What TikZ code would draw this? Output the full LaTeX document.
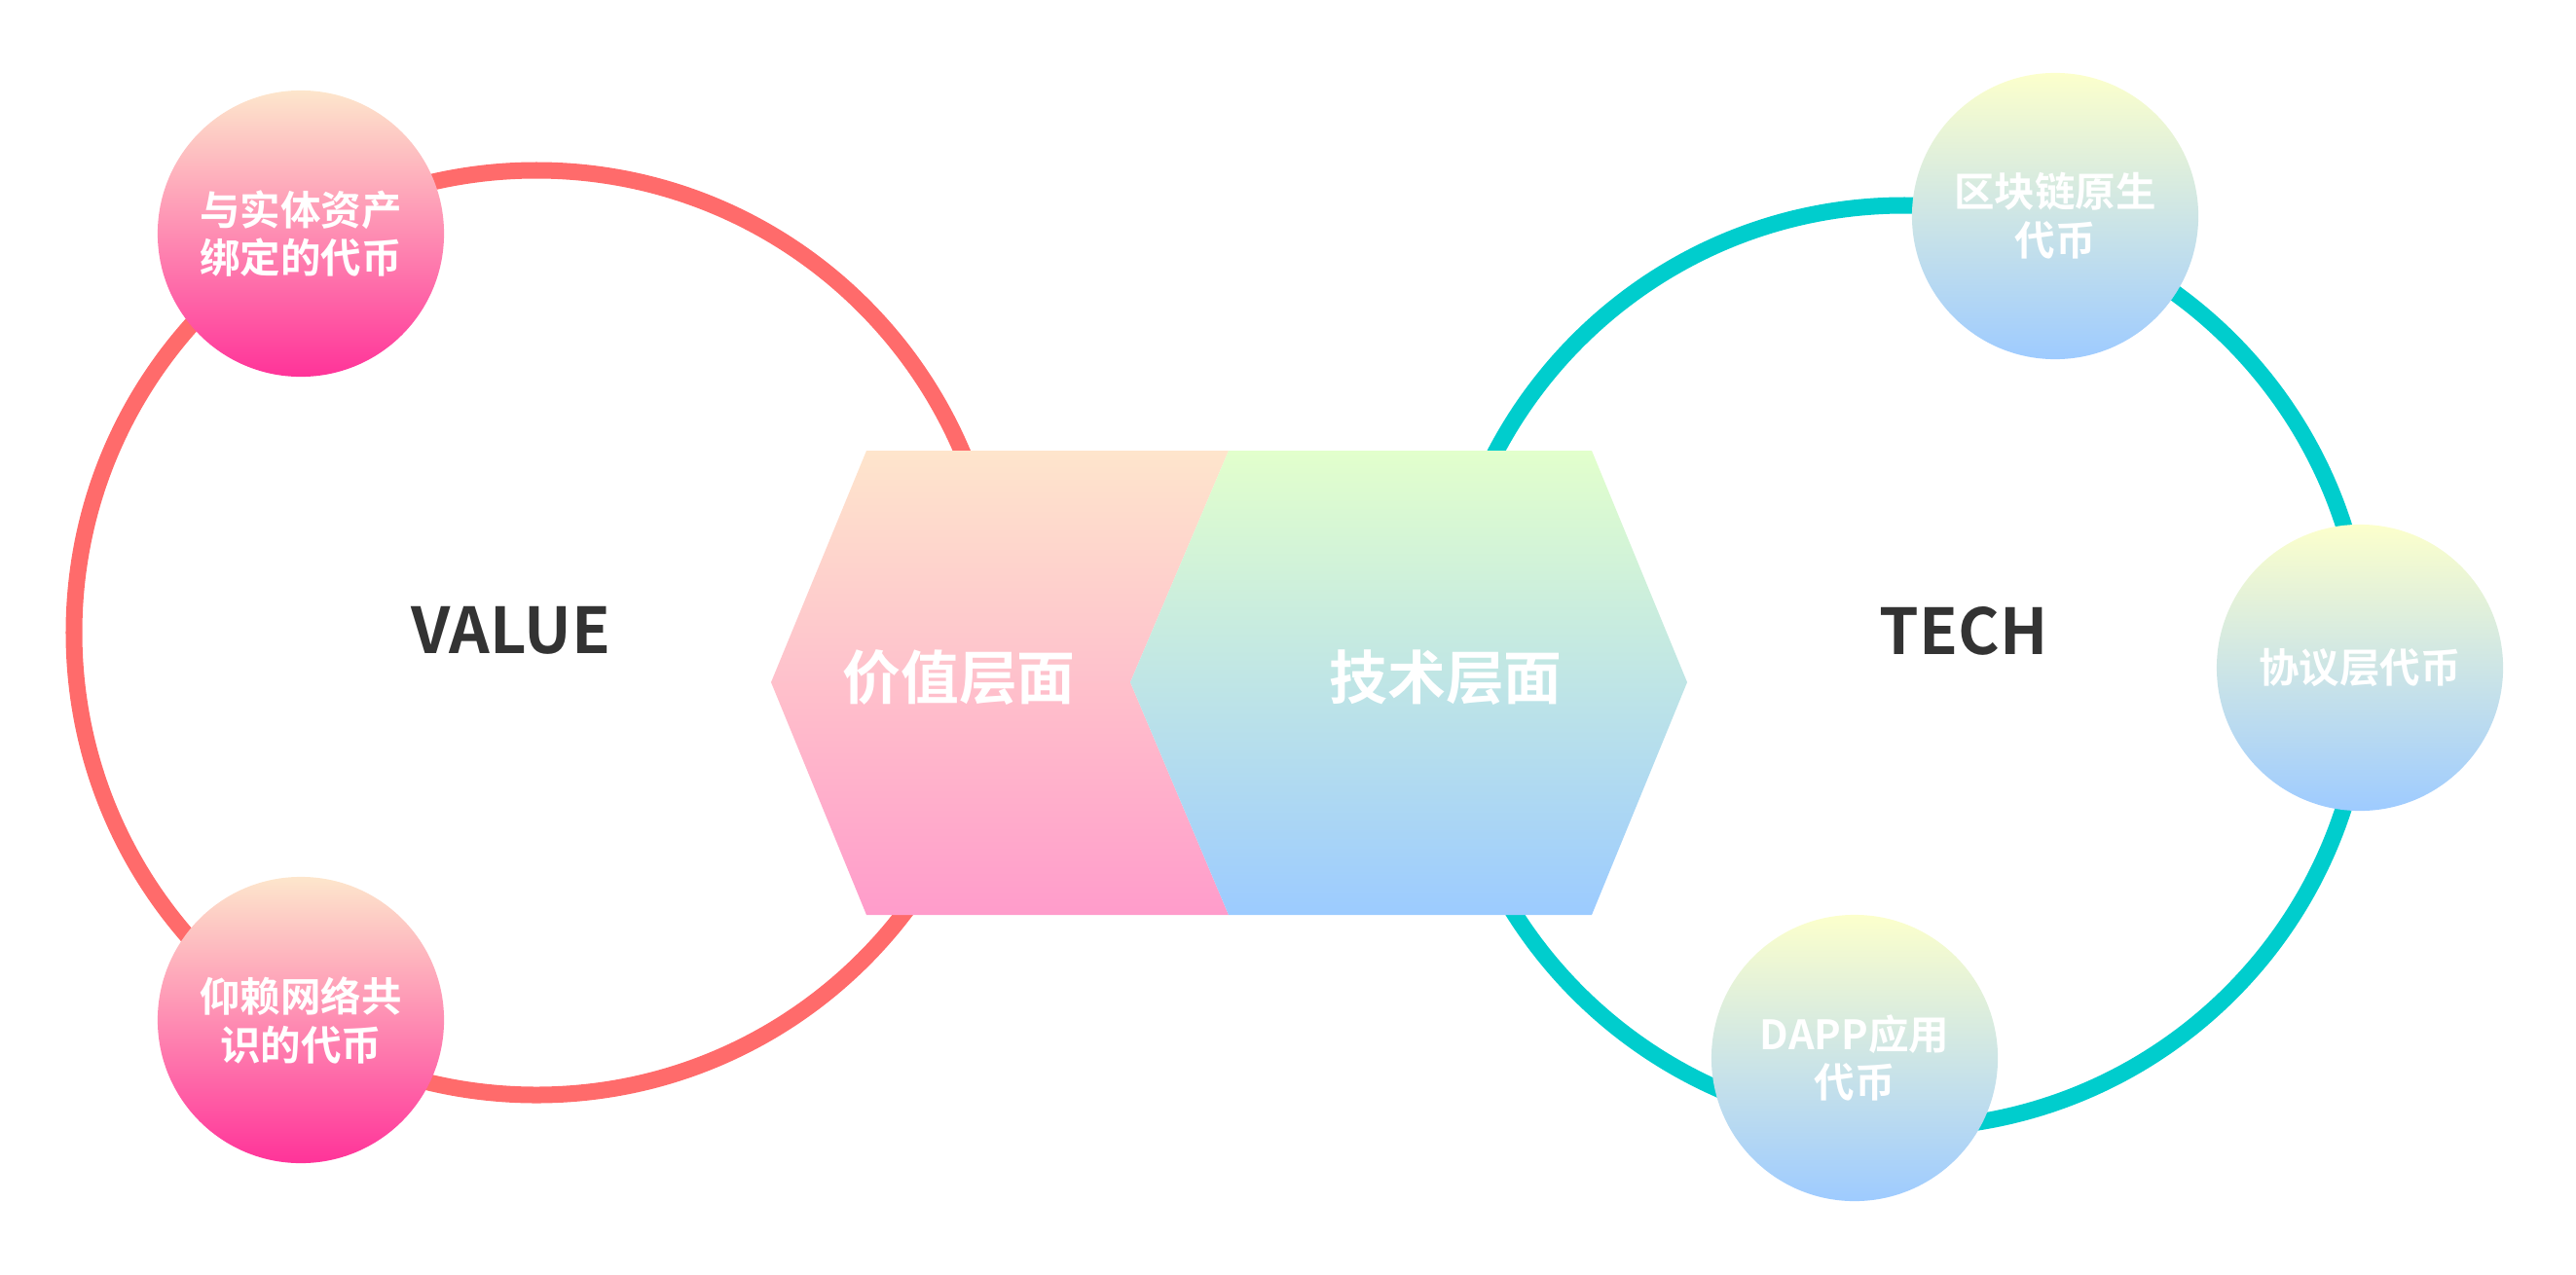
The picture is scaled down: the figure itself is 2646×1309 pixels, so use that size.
\documentclass[tikz,border=0pt]{standalone}
\usepackage{fontspec}
\setmainfont{Noto Sans CJK SC}[BoldFont={Noto Sans CJK SC Bold}]
\definecolor{ringred}{HTML}{FF6B6B}
\definecolor{ringteal}{HTML}{00CDCD}
\definecolor{peach}{HTML}{FDE6CC}
\definecolor{hotpink}{HTML}{FF3399}
\definecolor{lemon}{HTML}{FCFFCC}
\definecolor{skyblue}{HTML}{9ECBFF}
\definecolor{valtop}{HTML}{FEE5CC}
\definecolor{valbot}{HTML}{FF9CCB}
\definecolor{techtop}{HTML}{E2FFCC}
\definecolor{techbot}{HTML}{9CCBFF}
\definecolor{titlegray}{HTML}{333333}
\begin{document}
\begin{tikzpicture}[x=0.01cm,y=-0.01cm,
    ring/.style={line width=0.17cm},
    ball/.style={circle,minimum size=2.94cm,inner sep=0pt,text=white,align=center,
      font=\bfseries\fontsize{11.8}{14.2}\selectfont},
    pinkball/.style={ball,top color=peach,bottom color=hotpink},
    blueball/.style={ball,top color=lemon,bottom color=skyblue},
    layer/.style={text=white,font=\bfseries\fontsize{17}{20}\selectfont},
    title/.style={text=titlegray,font=\bfseries\fontsize{18.5}{22}\selectfont}]
  \useasboundingbox (0,0) rectangle (2646,1309);
  % two rings
  \draw[ring,ringred] (551,650) circle (475);
  \draw[ring,ringteal] (1956,685) circle (474);
  % middle hexagon
  \shade[top color=valtop,bottom color=valbot] (890,463) -- (1262,463) -- (1161,701)
    -- (1262,940) -- (890,940) -- (792,701) -- cycle;
  \shade[top color=techtop,bottom color=techbot] (1262,463) -- (1635,463) -- (1733,701)
    -- (1635,940) -- (1262,940) -- (1161,701) -- cycle;
  \node[layer] (valuelayer) at (985,696) {价值层面};
  \node[layer] (techlayer) at (1485,696) {技术层面};
  \node[title] (value) at (525,648) {VALUE};
  \node[title] (tech) at (2017,648) {TECH};
  % tokens on the rings
  \node[pinkball] (asset) at (309,240) {与实体资产\\绑定的代币};
  \node[pinkball] (consensus) at (309,1048) {仰赖网络共\\识的代币};
  \node[blueball] (native) at (2111,222) {区块链原生\\代币};
  \node[blueball] (protocol) at (2424,686) {协议层代币};
  \node[blueball] (dapp) at (1905,1087) {DAPP应用\\代币};
\end{tikzpicture}
\end{document}
